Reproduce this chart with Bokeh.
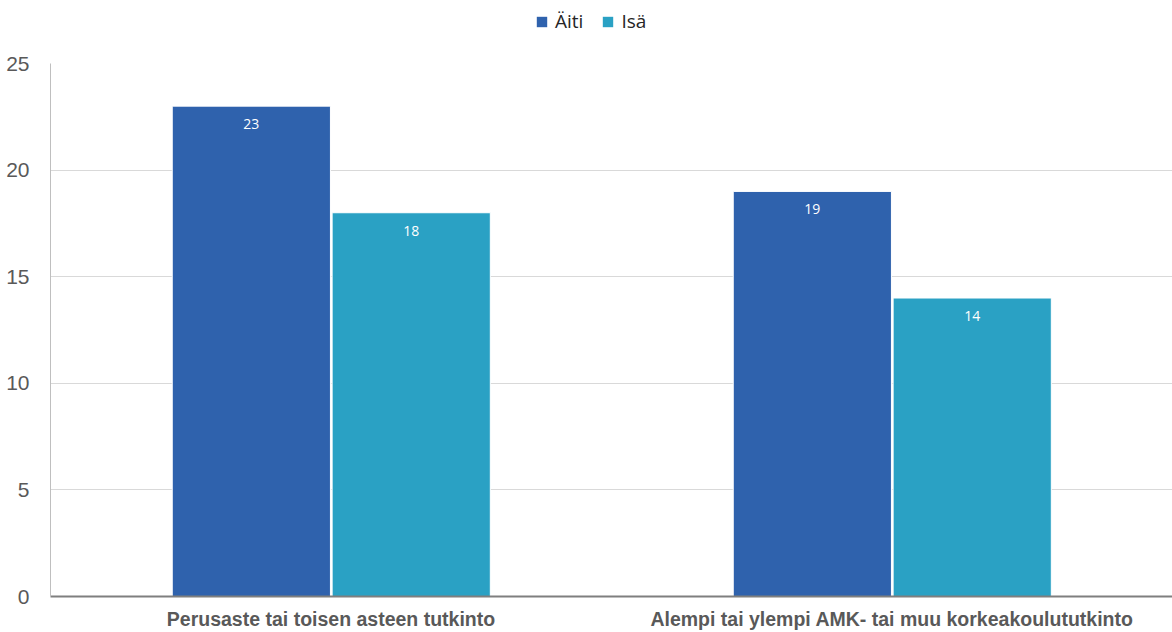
from bokeh.plotting import figure
from bokeh.layouts import column
from bokeh.models import FactorRange, Range1d, ColumnDataSource, Legend, LegendItem, FixedTicker
from bokeh.transform import dodge
from bokeh.core.properties import value
from bokeh.embed import file_html
from bokeh.resources import INLINE

categories = ["Perusaste tai toisen asteen tutkinto",
              "Alempi tai ylempi AMK- tai muu korkeakoulututkinto"]
series_names = ["Äiti", "Isä"]
aiti = [23, 19]
isa = [18, 14]
y_ticks = [0, 5, 10, 15, 20, 25]

colors = ["#2F62AD", "#2AA1C4"]

src = ColumnDataSource(dict(
    cat=categories, aiti=aiti, isa=isa,
    aiti_lbl=[str(v) for v in aiti], isa_lbl=[str(v) for v in isa],
))

# main bar chart
p = figure(width=1172, height=581, x_range=FactorRange(*categories, range_padding=0),
           y_range=Range1d(0, 25), output_backend="svg", toolbar_location=None,
           min_border_left=50, min_border_right=0, min_border_top=12, min_border_bottom=36)
p.outline_line_color = None
p.background_fill_color = "white"

bw = 0.282
offsets = [-0.142, 0.143]
p.vbar(x=dodge("cat", offsets[0], range=p.x_range), top="aiti", width=bw, source=src,
       fill_color=colors[0], line_color="white", line_width=1)
p.vbar(x=dodge("cat", offsets[1], range=p.x_range), top="isa", width=bw, source=src,
       fill_color=colors[1], line_color="white", line_width=1)

for col, lbl, dx in (("aiti", "aiti_lbl", offsets[0]), ("isa", "isa_lbl", offsets[1])):
    p.text(x=dodge("cat", dx, range=p.x_range), y=col, text=lbl, source=src,
           text_color="white", text_font=value("Open Sans"), text_font_size="14px",
           text_align="center", text_baseline="middle", y_offset=18)

p.yaxis.ticker = FixedTicker(ticks=y_ticks)
p.yaxis.major_tick_line_color = None
p.yaxis.minor_tick_line_color = None
p.yaxis.axis_line_color = "#BFBFBF"
p.yaxis.major_label_text_font = "Liberation Sans"
p.yaxis.major_label_text_font_size = "21px"
p.yaxis.major_label_text_color = "#595959"
p.yaxis.major_label_standoff = 15

p.xaxis.major_tick_line_color = None
p.xaxis.axis_line_color = "#7F7F7F"
p.xaxis.axis_line_width = 2
p.xaxis.major_label_text_font = "Liberation Sans"
p.xaxis.major_label_text_font_size = "19.5px"
p.xaxis.major_label_text_font_style = "bold"
p.xaxis.major_label_text_color = "#595959"
p.xaxis.major_label_standoff = 5

p.xgrid.grid_line_color = None
p.ygrid.grid_line_color = "#D9D9D9"
p.ygrid.ticker = FixedTicker(ticks=y_ticks)

# legend strip above the chart; swatch renderers are zero-size bars
lg = figure(width=1172, height=51, x_range=Range1d(0, 1), y_range=Range1d(0, 1),
            output_backend="svg", toolbar_location=None,
            min_border_left=0, min_border_right=0, min_border_top=0, min_border_bottom=0)
lg.axis.visible = False
lg.grid.visible = False
lg.outline_line_color = None
sw = [lg.vbar(x=[0.5], top=[0], bottom=[0], width=0, fill_color=c, line_color=None)
      for c in colors]
legend = Legend(items=[LegendItem(label=n, renderers=[r]) for n, r in zip(series_names, sw)],
                orientation="horizontal", location=(485, 17),
                glyph_width=13, glyph_height=13, label_standoff=7, spacing=18,
                padding=0, margin=0, border_line_color=None, background_fill_alpha=0,
                label_text_font="Open Sans", label_text_font_size="19px",
                label_text_color="#262626")
lg.add_layout(legend, "center")

layout = column(lg, p, spacing=0)
open("out.html", "w").write(file_html(layout, INLINE))
